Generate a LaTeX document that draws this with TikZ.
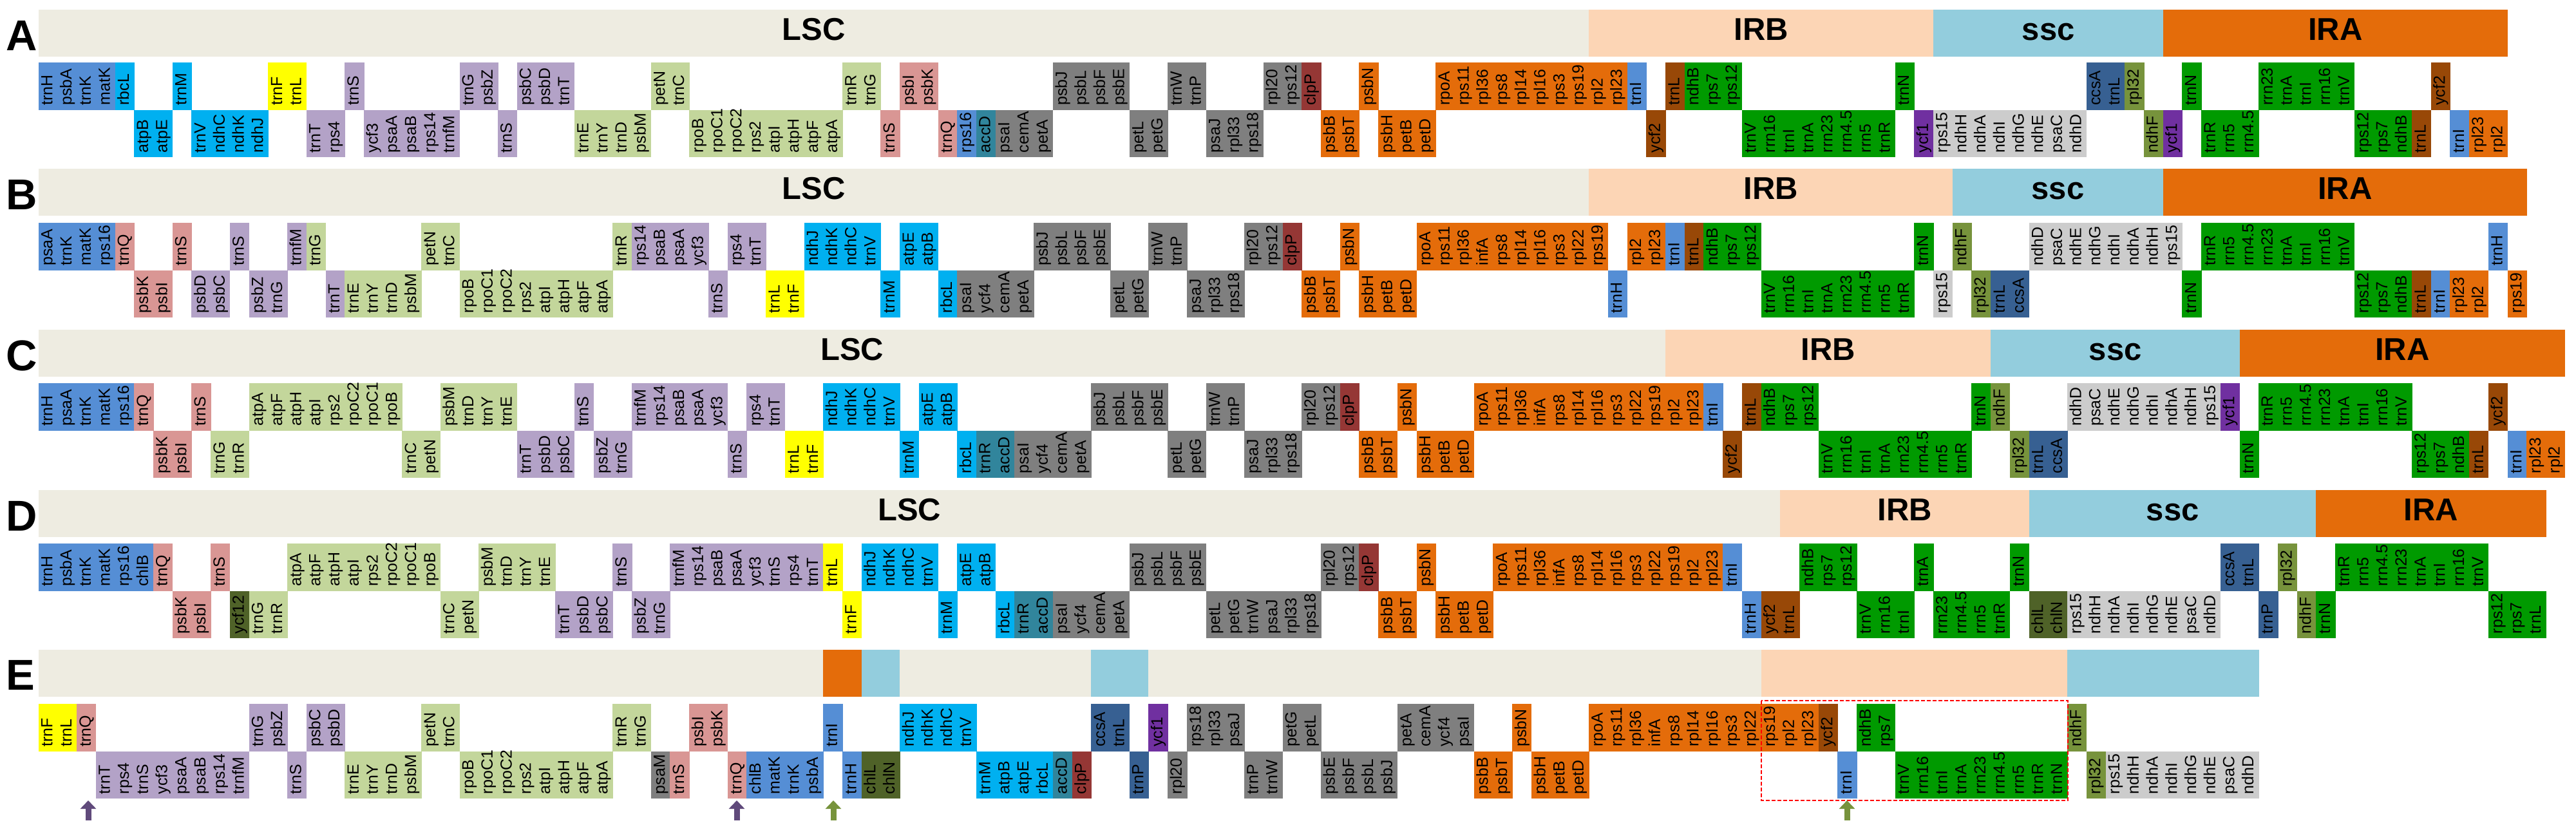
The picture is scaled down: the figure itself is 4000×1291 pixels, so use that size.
\documentclass[tikz,border=0pt]{standalone}
\usepackage{fontspec}
\setmainfont{Liberation Sans}
\usetikzlibrary{arrows.meta}
\definecolor{gblue}{HTML}{558ED5}
\definecolor{gcyan}{HTML}{00B0F0}
\definecolor{gyellow}{HTML}{FFFF00}
\definecolor{glav}{HTML}{B3A2C7}
\definecolor{glgreen}{HTML}{C3D69B}
\definecolor{gpink}{HTML}{D99694}
\definecolor{gteal}{HTML}{31859C}
\definecolor{ggray}{HTML}{7F7F7F}
\definecolor{gred}{HTML}{953735}
\definecolor{gorange}{HTML}{E46C0A}
\definecolor{gbrown}{HTML}{984807}
\definecolor{ggreen}{HTML}{009A00}
\definecolor{gviolet}{HTML}{7030A0}
\definecolor{glgray}{HTML}{CCCCCC}
\definecolor{golive}{HTML}{77933C}
\definecolor{gslate}{HTML}{376092}
\definecolor{gdolive}{HTML}{4F6228}
\definecolor{hlsc}{HTML}{EEECE1}
\definecolor{hirb}{HTML}{FCD5B5}
\definecolor{hssc}{HTML}{93CDDD}
\definecolor{hira}{HTML}{E46C0A}
\definecolor{arrpurple}{HTML}{604A7B}
\definecolor{arrgreen}{HTML}{77933C}
\newcount\gcol
\newcommand\rowN{A}
\newcommand\ytc{0}
\newcommand\ybc{0}
\newcommand\ybarc{0}
\newcommand\rowsetup[3]{%
  \gdef\rowN{#1}%
  \pgfmathsetmacro\tmpbar{#2+36.5}\xdef\ybarc{\tmpbar}%
  \pgfmathsetmacro\tmptop{#3+36.75}\xdef\ytc{\tmptop}%
  \pgfmathsetmacro\tmpbot{#3+110.25}\xdef\ybc{\tmpbot}%
  \global\gcol=0\relax}
\newcommand\GB[3]{%
  \foreach \nm in {#3}{%
    \pgfmathsetmacro\cx{60+(\the\gcol+0.5)*29.72}%
    \if#1u\edef\cy{\ytc}\else\edef\cy{\ybc}\fi
    \node[gene, fill=#2] (\rowN-\the\gcol) at (\cx,\cy) {\makebox[59.5pt][l]{\nm}};%
    \global\advance\gcol by 1\relax
  }%
}
\newcommand\regbar[5]{%
  \pgfmathsetmacro\bw{(#3-#2)*29.72+0.6}%
  \pgfmathsetmacro\bx{60+(#2+#3)/2*29.72}%
  \node[regbar, fill=#4, minimum width=\bw pt] (#1) at (\bx,\ybarc) {#5};%
}
\tikzset{
  gene/.style={rotate=90, inner xsep=7pt, inner ysep=0pt, minimum width=73.5pt,
    minimum height=30.3pt, text height=18.5pt, text depth=5.5pt,
    font=\fontsize{25}{25}\selectfont, text=black},
  regbar/.style={inner sep=0pt, minimum height=73pt, text height=35pt, text depth=14pt,
    font=\fontsize{49}{49}\bfseries\selectfont},
  rowlab/.style={inner sep=0pt, anchor=base west, font=\fontsize{67}{67}\bfseries\selectfont},
  markarrow/.style={line width=9pt, -{Triangle[width=24pt,length=13pt]}}
}
\begin{document}
\begin{tikzpicture}[x=1pt,y=-1pt]
\useasboundingbox[fill=white] (0,0) rectangle (4000,1291);

% ---------------- Row A ----------------
\rowsetup{A}{15}{97}
\node[rowlab] (labA) at (9,78) {A};
\regbar{A-LSC}{0}{81}{hlsc}{LSC}
\regbar{A-IRB}{81}{99}{hirb}{IRB}
\regbar{A-SSC}{99}{111}{hssc}{ssc}
\regbar{A-IRA}{111}{129}{hira}{IRA}
\GB{u}{gblue}{trnH,psbA,trnK,matK}
\GB{u}{gcyan}{rbcL}
\GB{d}{gcyan}{atpB,atpE}
\GB{u}{gcyan}{trnM}
\GB{d}{gcyan}{trnV,ndhC,ndhK,ndhJ}
\GB{u}{gyellow}{trnF,trnL}
\GB{d}{glav}{trnT,rps4}
\GB{u}{glav}{trnS}
\GB{d}{glav}{ycf3,psaA,psaB,rps14,trnfM}
\GB{u}{glav}{trnG,psbZ}
\GB{d}{glav}{trnS}
\GB{u}{glav}{psbC,psbD,trnT}
\GB{d}{glgreen}{trnE,trnY,trnD,psbM}
\GB{u}{glgreen}{petN,trnC}
\GB{d}{glgreen}{rpoB,rpoC1,rpoC2,rps2,atpI,atpH,atpF,atpA}
\GB{u}{glgreen}{trnR,trnG}
\GB{d}{gpink}{trnS}
\GB{u}{gpink}{psbI,psbK}
\GB{d}{gpink}{trnQ}
\GB{d}{gblue}{rps16}
\GB{d}{gteal}{accD}
\GB{d}{ggray}{psaI,cemA,petA}
\GB{u}{ggray}{psbJ,psbL,psbF,psbE}
\GB{d}{ggray}{petL,petG}
\GB{u}{ggray}{trnW,trnP}
\GB{d}{ggray}{psaJ,rpl33,rps18}
\GB{u}{ggray}{rpl20,rps12}
\GB{u}{gred}{clpP}
\GB{d}{gorange}{psbB,psbT}
\GB{u}{gorange}{psbN}
\GB{d}{gorange}{psbH,petB,petD}
\GB{u}{gorange}{rpoA,rps11,rpl36,rps8,rpl14,rpl16,rps3,rps19,rpl2,rpl23}
\GB{u}{gblue}{trnI}
\GB{d}{gbrown}{ycf2}
\GB{u}{gbrown}{trnL}
\GB{u}{ggreen}{ndhB,rps7,rps12}
\GB{d}{ggreen}{trnV,rrn16,trnI,trnA,rrn23,rrn4.5,rrn5,trnR}
\GB{u}{ggreen}{trnN}
\GB{d}{gviolet}{ycf1}
\GB{d}{glgray}{rps15,ndhH,ndhA,ndhI,ndhG,ndhE,psaC,ndhD}
\GB{u}{gslate}{ccsA,trnL}
\GB{u}{golive}{rpl32}
\GB{d}{golive}{ndhF}
\GB{d}{gviolet}{ycf1}
\GB{u}{ggreen}{trnN}
\GB{d}{ggreen}{trnR,rrn5,rrn4.5}
\GB{u}{ggreen}{rrn23,trnA,trnI,rrn16,trnV}
\GB{d}{ggreen}{rps12,rps7,ndhB}
\GB{d}{gbrown}{trnL}
\GB{u}{gbrown}{ycf2}
\GB{d}{gblue}{trnI}
\GB{d}{gorange}{rpl23,rpl2}

% ---------------- Row B ----------------
\rowsetup{B}{262}{346}
\node[rowlab] (labB) at (9,325) {B};
\regbar{B-LSC}{0}{81}{hlsc}{LSC}
\regbar{B-IRB}{81}{100}{hirb}{IRB}
\regbar{B-SSC}{100}{111}{hssc}{ssc}
\regbar{B-IRA}{111}{130}{hira}{IRA}
\GB{u}{gblue}{psaA,trnK,matK,rps16}
\GB{u}{gpink}{trnQ}
\GB{d}{gpink}{psbK,psbI}
\GB{u}{gpink}{trnS}
\GB{d}{glav}{psbD,psbC}
\GB{u}{glav}{trnS}
\GB{d}{glav}{psbZ,trnG}
\GB{u}{glav}{trnfM}
\GB{u}{glgreen}{trnG}
\GB{d}{glav}{trnT}
\GB{d}{glgreen}{trnE,trnY,trnD,psbM}
\GB{u}{glgreen}{petN,trnC}
\GB{d}{glgreen}{rpoB,rpoC1,rpoC2,rps2,atpI,atpH,atpF,atpA}
\GB{u}{glgreen}{trnR}
\GB{u}{glav}{rps14,psaB,psaA,ycf3}
\GB{d}{glav}{trnS}
\GB{u}{glav}{rps4,trnT}
\GB{d}{gyellow}{trnL,trnF}
\GB{u}{gcyan}{ndhJ,ndhK,ndhC,trnV}
\GB{d}{gcyan}{trnM}
\GB{u}{gcyan}{atpE,atpB}
\GB{d}{gcyan}{rbcL}
\GB{d}{ggray}{psaI,ycf4,cemA,petA}
\GB{u}{ggray}{psbJ,psbL,psbF,psbE}
\GB{d}{ggray}{petL,petG}
\GB{u}{ggray}{trnW,trnP}
\GB{d}{ggray}{psaJ,rpl33,rps18}
\GB{u}{ggray}{rpl20,rps12}
\GB{u}{gred}{clpP}
\GB{d}{gorange}{psbB,psbT}
\GB{u}{gorange}{psbN}
\GB{d}{gorange}{psbH,petB,petD}
\GB{u}{gorange}{rpoA,rps11,rpl36,infA,rps8,rpl14,rpl16,rps3,rpl22,rps19}
\GB{d}{gblue}{trnH}
\GB{u}{gorange}{rpl2,rpl23}
\GB{u}{gblue}{trnI}
\GB{u}{gbrown}{trnL}
\GB{u}{ggreen}{ndhB,rps7,rps12}
\GB{d}{ggreen}{trnV,rrn16,trnI,trnA,rrn23,rrn4.5,rrn5,trnR}
\GB{u}{ggreen}{trnN}
\GB{d}{glgray}{rps15}
\GB{u}{golive}{ndhF}
\GB{d}{golive}{rpl32}
\GB{d}{gslate}{trnL,ccsA}
\GB{u}{glgray}{ndhD,psaC,ndhE,ndhG,ndhI,ndhA,ndhH,rps15}
\GB{d}{ggreen}{trnN}
\GB{u}{ggreen}{trnR,rrn5,rrn4.5,rrn23,trnA,trnI,rrn16,trnV}
\GB{d}{ggreen}{rps12,rps7,ndhB}
\GB{d}{gbrown}{trnL}
\GB{d}{gblue}{trnI}
\GB{d}{gorange}{rpl23,rpl2}
\GB{u}{gblue}{trnH}
\GB{d}{gorange}{rps19}

% ---------------- Row C ----------------
\rowsetup{C}{512}{595}
\node[rowlab] (labC) at (9,575) {C};
\regbar{C-LSC}{0}{85}{hlsc}{LSC}
\regbar{C-IRB}{85}{102}{hirb}{IRB}
\regbar{C-SSC}{102}{115}{hssc}{ssc}
\regbar{C-IRA}{115}{132}{hira}{IRA}
\GB{u}{gblue}{trnH,psaA,trnK,matK,rps16}
\GB{u}{gpink}{trnQ}
\GB{d}{gpink}{psbK,psbI}
\GB{u}{gpink}{trnS}
\GB{d}{glgreen}{trnG,trnR}
\GB{u}{glgreen}{atpA,atpF,atpH,atpI,rps2,rpoC2,rpoC1,rpoB}
\GB{d}{glgreen}{trnC,petN}
\GB{u}{glgreen}{psbM,trnD,trnY,trnE}
\GB{d}{glav}{trnT,psbD,psbC}
\GB{u}{glav}{trnS}
\GB{d}{glav}{psbZ,trnG}
\GB{u}{glav}{trnfM,rps14,psaB,psaA,ycf3}
\GB{d}{glav}{trnS}
\GB{u}{glav}{rps4,trnT}
\GB{d}{gyellow}{trnL,trnF}
\GB{u}{gcyan}{ndhJ,ndhK,ndhC,trnV}
\GB{d}{gcyan}{trnM}
\GB{u}{gcyan}{atpE,atpB}
\GB{d}{gcyan}{rbcL}
\GB{d}{gteal}{trnR,accD}
\GB{d}{ggray}{psaI,ycf4,cemA,petA}
\GB{u}{ggray}{psbJ,psbL,psbF,psbE}
\GB{d}{ggray}{petL,petG}
\GB{u}{ggray}{trnW,trnP}
\GB{d}{ggray}{psaJ,rpl33,rps18}
\GB{u}{ggray}{rpl20,rps12}
\GB{u}{gred}{clpP}
\GB{d}{gorange}{psbB,psbT}
\GB{u}{gorange}{psbN}
\GB{d}{gorange}{psbH,petB,petD}
\GB{u}{gorange}{rpoA,rps11,rpl36,infA,rps8,rpl14,rpl16,rps3,rpl22,rps19,rpl2,rpl23}
\GB{u}{gblue}{trnI}
\GB{d}{gbrown}{ycf2}
\GB{u}{gbrown}{trnL}
\GB{u}{ggreen}{ndhB,rps7,rps12}
\GB{d}{ggreen}{trnV,rrn16,trnI,trnA,rrn23,rrn4.5,rrn5,trnR}
\GB{u}{ggreen}{trnN}
\GB{u}{golive}{ndhF}
\GB{d}{golive}{rpl32}
\GB{d}{gslate}{trnL,ccsA}
\GB{u}{glgray}{ndhD,psaC,ndhE,ndhG,ndhI,ndhA,ndhH,rps15}
\GB{u}{gviolet}{ycf1}
\GB{d}{ggreen}{trnN}
\GB{u}{ggreen}{trnR,rrn5,rrn4.5,rrn23,trnA,trnI,rrn16,trnV}
\GB{d}{ggreen}{rps12,rps7,ndhB}
\GB{d}{gbrown}{trnL}
\GB{u}{gbrown}{ycf2}
\GB{d}{gblue}{trnI}
\GB{d}{gorange}{rpl23,rpl2}

% ---------------- Row D ----------------
\rowsetup{D}{761}{844}
\node[rowlab] (labD) at (9,824) {D};
\regbar{D-LSC}{0}{91}{hlsc}{LSC}
\regbar{D-IRB}{91}{104}{hirb}{IRB}
\regbar{D-SSC}{104}{119}{hssc}{ssc}
\regbar{D-IRA}{119}{131}{hira}{IRA}
\GB{u}{gblue}{trnH,psbA,trnK,matK,rps16,chlB}
\GB{u}{gpink}{trnQ}
\GB{d}{gpink}{psbK,psbI}
\GB{u}{gpink}{trnS}
\GB{d}{gdolive}{ycf12}
\GB{d}{glgreen}{trnG,trnR}
\GB{u}{glgreen}{atpA,atpF,atpH,atpI,rps2,rpoC2,rpoC1,rpoB}
\GB{d}{glgreen}{trnC,petN}
\GB{u}{glgreen}{psbM,trnD,trnY,trnE}
\GB{d}{glav}{trnT,psbD,psbC}
\GB{u}{glav}{trnS}
\GB{d}{glav}{psbZ,trnG}
\GB{u}{glav}{trnfM,rps14,psaB,psaA,ycf3,trnS,rps4,trnT}
\GB{u}{gyellow}{trnL}
\GB{d}{gyellow}{trnF}
\GB{u}{gcyan}{ndhJ,ndhK,ndhC,trnV}
\GB{d}{gcyan}{trnM}
\GB{u}{gcyan}{atpE,atpB}
\GB{d}{gcyan}{rbcL}
\GB{d}{gteal}{trnR,accD}
\GB{d}{ggray}{psaI,ycf4,cemA,petA}
\GB{u}{ggray}{psbJ,psbL,psbF,psbE}
\GB{d}{ggray}{petL,petG,trnW,psaJ,rpl33,rps18}
\GB{u}{ggray}{rpl20,rps12}
\GB{u}{gred}{clpP}
\GB{d}{gorange}{psbB,psbT}
\GB{u}{gorange}{psbN}
\GB{d}{gorange}{psbH,petB,petD}
\GB{u}{gorange}{rpoA,rps11,rpl36,infA,rps8,rpl14,rpl16,rps3,rpl22,rps19,rpl2,rpl23}
\GB{u}{gblue}{trnI}
\GB{d}{gblue}{trnH}
\GB{d}{gbrown}{ycf2,trnL}
\GB{u}{ggreen}{ndhB,rps7,rps12}
\GB{d}{ggreen}{trnV,rrn16,trnI}
\GB{u}{ggreen}{trnA}
\GB{d}{ggreen}{rrn23,rrn4.5,rrn5,trnR}
\GB{u}{ggreen}{trnN}
\GB{d}{gdolive}{chlL,chlN}
\GB{d}{glgray}{rps15,ndhH,ndhA,ndhI,ndhG,ndhE,psaC,ndhD}
\GB{u}{gslate}{ccsA,trnL}
\GB{d}{gslate}{trnP}
\GB{u}{golive}{rpl32}
\GB{d}{golive}{ndhF}
\GB{d}{ggreen}{trnN}
\GB{u}{ggreen}{trnR,rrn5,rrn4.5,rrn23,trnA,trnI,rrn16,trnV}
\GB{d}{ggreen}{rps12,rps7,trnL}

% ---------------- Row E ----------------
\rowsetup{E}{1009}{1093}
\node[rowlab] (labE) at (9,1071) {E};
\regbar{E-LSC1}{0}{41}{hlsc}{}
\regbar{E-IRA1}{41}{43}{hira}{}
\regbar{E-SSC1}{43}{45}{hssc}{}
\regbar{E-LSC2}{45}{55}{hlsc}{}
\regbar{E-SSC2}{55}{58}{hssc}{}
\regbar{E-LSC3}{58}{90}{hlsc}{}
\regbar{E-IRB}{90}{106}{hirb}{}
\regbar{E-SSC3}{106}{116}{hssc}{}
\GB{u}{gyellow}{trnF,trnL}
\GB{u}{gpink}{trnQ}
\GB{d}{glav}{trnT,rps4,trnS,ycf3,psaA,psaB,rps14,trnfM}
\GB{u}{glav}{trnG,psbZ}
\GB{d}{glav}{trnS}
\GB{u}{glav}{psbC,psbD}
\GB{d}{glgreen}{trnE,trnY,trnD,psbM}
\GB{u}{glgreen}{petN,trnC}
\GB{d}{glgreen}{rpoB,rpoC1,rpoC2,rps2,atpI,atpH,atpF,atpA}
\GB{u}{glgreen}{trnR,trnG}
\GB{d}{ggray}{psaM}
\GB{d}{gpink}{trnS}
\GB{u}{gpink}{psbI,psbK}
\GB{d}{gpink}{trnQ}
\GB{d}{gblue}{chlB,matK,trnK,psbA}
\GB{u}{gblue}{trnI}
\GB{d}{gblue}{trnH}
\GB{d}{gdolive}{chlL,chlN}
\GB{u}{gcyan}{ndhJ,ndhK,ndhC,trnV}
\GB{d}{gcyan}{trnM,atpB,atpE,rbcL}
\GB{d}{gteal}{accD}
\GB{d}{gred}{clpP}
\GB{u}{gslate}{ccsA,trnL}
\GB{d}{gslate}{trnP}
\GB{u}{gviolet}{ycf1}
\GB{d}{ggray}{rpl20}
\GB{u}{ggray}{rps18,rpl33,psaJ}
\GB{d}{ggray}{trnP,trnW}
\GB{u}{ggray}{petG,petL}
\GB{d}{ggray}{psbE,psbF,psbL,psbJ}
\GB{u}{ggray}{petA,cemA,ycf4,psaI}
\GB{d}{gorange}{psbB,psbT}
\GB{u}{gorange}{psbN}
\GB{d}{gorange}{psbH,petB,petD}
\GB{u}{gorange}{rpoA,rps11,rpl36,infA,rps8,rpl14,rpl16,rps3,rpl22,rps19,rpl2,rpl23}
\GB{u}{gbrown}{ycf2}
\GB{d}{gblue}{trnI}
\GB{u}{ggreen}{ndhB,rps7}
\GB{d}{ggreen}{trnV,rrn16,trnI,trnA,rrn23,rrn4.5,rrn5,trnR,trnN}
\GB{u}{golive}{ndhF}
\GB{d}{golive}{rpl32}
\GB{d}{glgray}{rps15,ndhH,ndhA,ndhI,ndhG,ndhE,psaC,ndhD}

% dashed frame round the IRB part of row E
\draw[red, line width=2.5pt, dash pattern=on 6pt off 3pt] (2735,1088) rectangle (3211,1243);

% arrows under row E
\coordinate (E-a1s) at (137,1274); \coordinate (E-a1e) at (137,1243);
\coordinate (E-a2s) at (1144,1274); \coordinate (E-a2e) at (1144,1243);
\coordinate (E-a3s) at (1294,1274); \coordinate (E-a3e) at (1294,1243);
\coordinate (E-a4s) at (2868,1274); \coordinate (E-a4e) at (2868,1243);
\draw[markarrow, arrpurple] (E-a1s) -- (E-a1e);
\draw[markarrow, arrpurple] (E-a2s) -- (E-a2e);
\draw[markarrow, arrgreen] (E-a3s) -- (E-a3e);
\draw[markarrow, arrgreen] (E-a4s) -- (E-a4e);
\end{tikzpicture}
\end{document}
